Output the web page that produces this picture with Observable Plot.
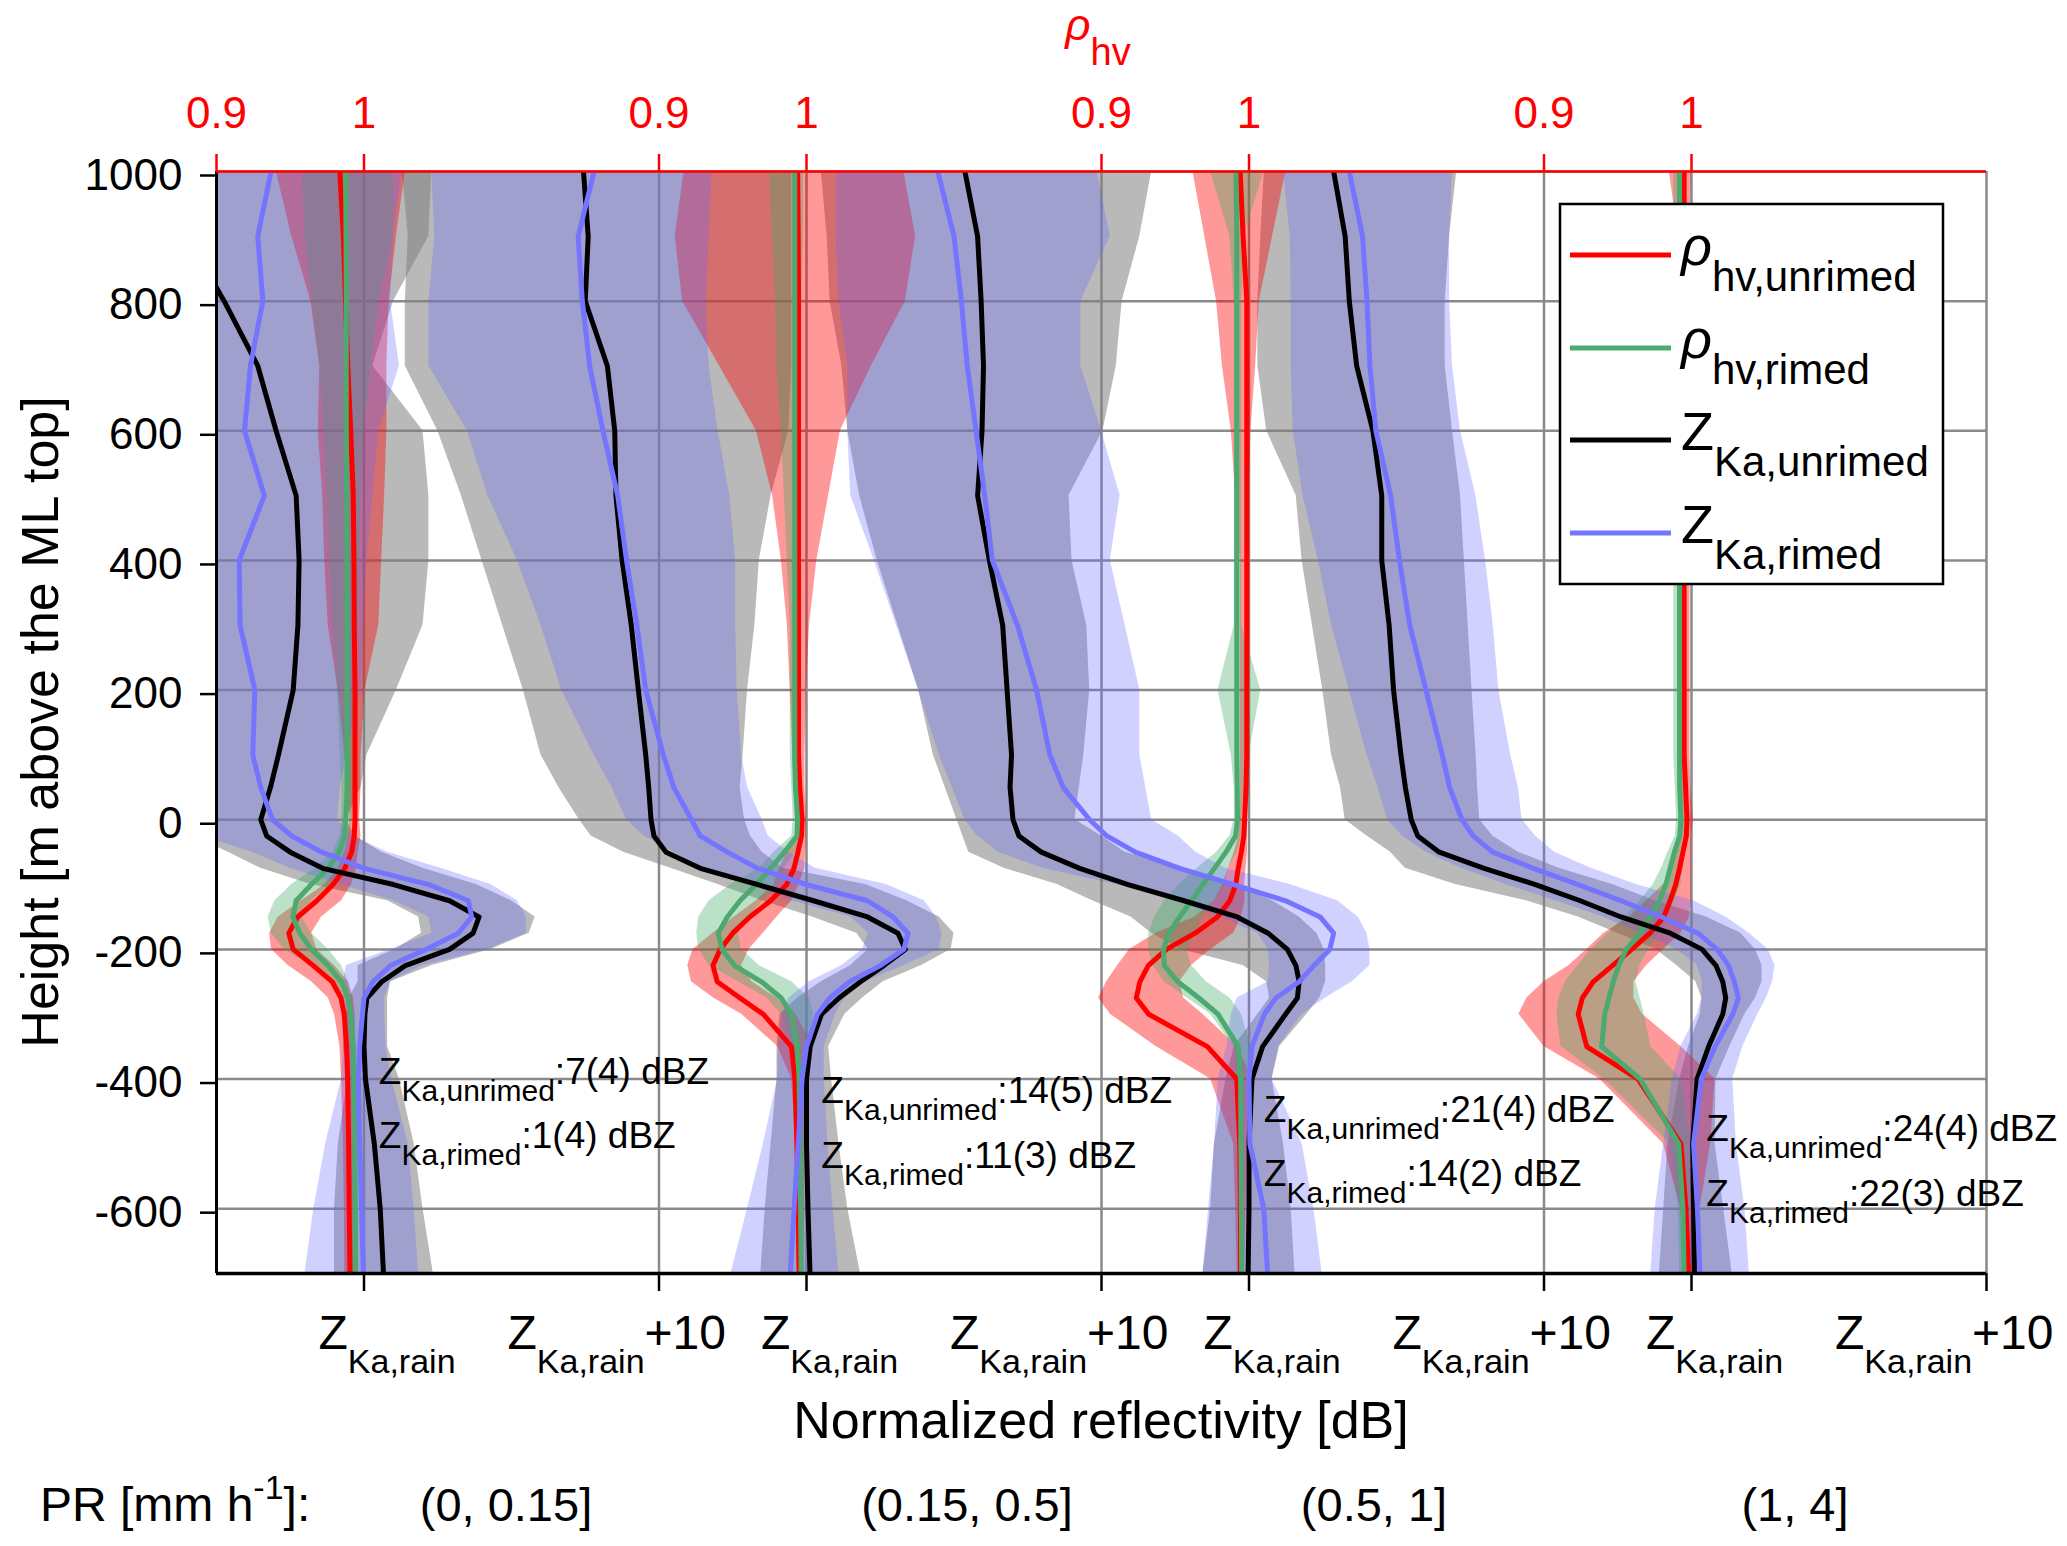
<!DOCTYPE html>
<html>
<head>
<meta charset="utf-8">
<script src="https://cdn.jsdelivr.net/npm/d3@7"></script>
<script src="https://cdn.jsdelivr.net/npm/@observablehq/plot@0.6"></script>
<style>
html, body { margin: 0; padding: 0; background: #ffffff; }
#chart svg { display: block; }
</style>
</head>
<body>
<div id="chart"></div>
<script>
// ---------------- DATA ----------------
// heights (m above the ML top)
const heights = [1000, 900, 800, 700, 600, 500, 400, 300, 200, 100, 50, 0, -25, -50, -75, -100, -125, -150, -175, -200, -225, -250, -275, -300, -350, -400, -500, -600, -700];
const panels = [0, 1, 2, 3];
const prClasses = ["(0, 0.15]", "(0.15, 0.5]", "(0.5, 1]", "(1, 4]"];
const unrimedMean = ["7(4)", "14(5)", "21(4)", "24(4)"];
const rimedMean = ["1(4)", "11(3)", "14(2)", "22(3)"];

// normalized Ka reflectivity (dB relative to Z_Ka,rain), one array per PR class
const zUnrimed = [
  [-6.8, -6.0, -4.74, -3.6, -2.98, -2.3, -2.2, -2.24, -2.4, -2.9, -3.17, -3.5, -3.3, -2.5, -1.4, 1.0, 2.9, 3.9, 3.7, 2.9, 1.4, 0.6, 0.1, 0.03, 0.0, 0.05, 0.35, 0.55, 0.66],
  [-7.56, -7.4, -7.5, -6.75, -6.5, -6.46, -6.25, -5.94, -5.7, -5.45, -5.35, -5.27, -5.17, -4.76, -3.6, -1.65, 0.24, 2.07, 3.1, 3.35, 2.62, 1.83, 1.1, 0.51, 0.12, 0.0, 0.0, 0.05, 0.12],
  [-9.63, -9.2, -9.08, -9.0, -9.05, -9.2, -8.8, -8.35, -8.2, -8.05, -8.1, -8.0, -7.8, -7.04, -5.74, -4.1, -2.2, -0.4, 0.65, 1.3, 1.59, 1.7, 1.64, 1.24, 0.46, 0.1, 0.0, 0.0, -0.03],
  [-12.13, -11.74, -11.6, -11.35, -10.8, -10.5, -10.5, -10.25, -10.1, -9.85, -9.7, -9.5, -9.28, -8.55, -7.03, -5.29, -3.77, -2.39, -0.72, 0.36, 0.83, 1.06, 1.16, 1.06, 0.58, 0.19, 0.04, 0.07, 0.1]
];
const zRimed = [
  [-3.15, -3.6, -3.43, -3.85, -4.05, -3.38, -4.23, -4.2, -3.7, -3.77, -3.5, -3.1, -2.45, -1.43, 0.0, 2.2, 3.54, 3.65, 3.2, 2.1, 0.9, 0.3, 0.0, -0.05, -0.15, -0.19, -0.15, -0.08, -0.02],
  [-7.2, -7.74, -7.6, -7.35, -6.9, -6.4, -6.1, -5.75, -5.45, -4.85, -4.5, -3.9, -3.6, -2.68, -1.65, 0.0, 2.07, 2.93, 3.44, 3.3, 2.5, 1.46, 0.79, 0.37, 0.0, -0.15, -0.28, -0.42, -0.55],
  [-10.55, -10.0, -9.75, -9.55, -9.25, -8.96, -8.7, -7.85, -7.2, -6.75, -6.3, -5.4, -4.82, -3.85, -2.35, -0.52, 1.24, 2.41, 2.87, 2.74, 2.2, 1.7, 0.91, 0.52, 0.1, 0.0, 0.03, 0.5, 0.63],
  [-11.6, -11.15, -11.0, -10.9, -10.7, -10.2, -9.9, -9.55, -9.0, -8.45, -8.2, -7.78, -7.4, -6.74, -5.36, -3.84, -2.39, -1.01, 0.22, 0.87, 1.26, 1.45, 1.59, 1.4, 0.8, 0.33, 0.07, 0.2, 0.29]
];
// copolar correlation coefficient
const rhoUnrimed = [
  [0.9836, 0.986, 0.9875, 0.989, 0.991, 0.9927, 0.9932, 0.9934, 0.9939, 0.9939, 0.9939, 0.9939, 0.9934, 0.9916, 0.987, 0.979, 0.968, 0.955, 0.949, 0.952, 0.9656, 0.9785, 0.9844, 0.9866, 0.9882, 0.9889, 0.9896, 0.99, 0.9905],
  [0.994, 0.9944, 0.9946, 0.9946, 0.9946, 0.9946, 0.9946, 0.9946, 0.9946, 0.9946, 0.9955, 0.997, 0.9966, 0.9942, 0.9915, 0.9866, 0.9756, 0.9615, 0.95, 0.9415, 0.9366, 0.9395, 0.9549, 0.9707, 0.9898, 0.9922, 0.9935, 0.9943, 0.995],
  [0.994, 0.996, 0.9985, 0.9985, 0.9985, 0.9985, 0.9985, 0.9985, 0.9985, 0.9985, 0.998, 0.997, 0.9965, 0.9948, 0.9927, 0.991, 0.987, 0.9786, 0.9635, 0.944, 0.9317, 0.926, 0.9236, 0.932, 0.9718, 0.9917, 0.9937, 0.9942, 0.9943],
  [0.995, 0.995, 0.995, 0.995, 0.995, 0.995, 0.995, 0.995, 0.995, 0.995, 0.996, 0.997, 0.9965, 0.9942, 0.9919, 0.9893, 0.9855, 0.9812, 0.9719, 0.9594, 0.9464, 0.9333, 0.926, 0.9232, 0.929, 0.9638, 0.9928, 0.9962, 0.998]
];
const rhoRimed = [
  [0.9875, 0.9878, 0.988, 0.988, 0.988, 0.9882, 0.9884, 0.9885, 0.9885, 0.9886, 0.9886, 0.9876, 0.987, 0.983, 0.9757, 0.9643, 0.954, 0.9518, 0.9565, 0.9643, 0.9757, 0.9848, 0.9893, 0.991, 0.9925, 0.9932, 0.9939, 0.9941, 0.9943],
  [0.992, 0.992, 0.992, 0.992, 0.992, 0.992, 0.992, 0.992, 0.992, 0.992, 0.9925, 0.994, 0.9935, 0.985, 0.9756, 0.9659, 0.9549, 0.9463, 0.9402, 0.9427, 0.9512, 0.9695, 0.9829, 0.9898, 0.9937, 0.995, 0.9957, 0.996, 0.9964],
  [0.9912, 0.9917, 0.9917, 0.9917, 0.9917, 0.9917, 0.9917, 0.9917, 0.9917, 0.9917, 0.992, 0.9922, 0.9909, 0.9844, 0.9765, 0.9687, 0.961, 0.953, 0.9458, 0.942, 0.9426, 0.9518, 0.966, 0.979, 0.9927, 0.9943, 0.9945, 0.9948, 0.995],
  [0.9919, 0.9919, 0.9919, 0.9919, 0.9919, 0.9919, 0.9919, 0.9919, 0.9919, 0.9919, 0.992, 0.9928, 0.992, 0.9884, 0.9855, 0.9826, 0.9783, 0.9719, 0.9652, 0.9557, 0.9507, 0.947, 0.944, 0.9412, 0.9391, 0.9652, 0.9913, 0.9942, 0.995]
];
// spread (lower / upper edge of shaded areas)
const zUnrimedLo = [
  [-13, -13, -12, -11, -10.5, -10, -10, -10, -9.5, -9, -8.5, -7, -5.8, -4.6, -3.5, -1.8, 0.8, 1.85, 1.95, 1.05, -0.2, -0.2, -0.5, -0.6, -0.7, -0.55, -0.87, -1.0, -1.0],
  [-13.7, -13.5, -13.6, -13.6, -12.5, -11.7, -11.0, -10.3, -9.6, -9.0, -8.4, -7.7, -7.3, -6.2, -4.6, -3.0, -1.5, 0.2, 1.7, 2.1, 1.5, 0.5, -0.3, -0.9, -1.0, -1.0, -1.2, -1.4, -1.55],
  [-14.5, -14.3, -14.2, -13.8, -13.6, -13.2, -12.6, -11.9, -11.2, -10.7, -10.3, -9.9, -9.7, -9.5, -8.3, -6.5, -5.3, -4.0, -3.3, -2.3, -0.2, 0.6, 0.7, 0.3, -0.5, -0.78, -1.17, -1.3, -1.56],
  [-14.48, -14.6, -14.7, -14.7, -14.4, -13.4, -13.2, -12.85, -12.5, -12.2, -11.9, -11.74, -11.0, -10.2, -9.7, -8.0, -5.6, -3.84, -2.5, -1.2, -0.5, 0.15, 0.35, 0.3, -0.1, -0.4, -0.8, -0.94, -1.09]
];
const zUnrimedHi = [
  [2.3, 2.2, 1.0, 0.3, 2.0, 2.2, 2.2, 2.0, 1.1, 0.1, -0.1, -0.6, -0.3, 0.6, 2.0, 3.8, 5.0, 5.8, 5.6, 4.3, 2.3, 0.9, 0.8, 0.8, 0.8, 1.2, 1.7, 2.0, 2.35],
  [-0.5, -0.5, -0.5, -0.5, -0.6, -1.2, -1.6, -1.75, -2.0, -2.15, -2.25, -2.1, -1.9, -1.5, -0.8, 2.0, 3.4, 4.5, 5.0, 4.9, 3.9, 2.6, 1.9, 1.3, 0.75, 0.85, 1.1, 1.4, 1.83],
  [-3.3, -3.7, -4.3, -4.5, -4.95, -6.1, -6.0, -5.5, -5.4, -5.6, -5.75, -5.9, -5.0, -4.2, -2.35, -0.5, 0.8, 1.7, 2.3, 2.55, 2.6, 2.6, 2.4, 1.96, 1.04, 0.78, 1.17, 1.43, 1.56],
  [-7.96, -8.2, -8.35, -8.35, -8.1, -7.83, -7.7, -7.57, -7.44, -7.3, -7.25, -7.18, -6.74, -5.87, -4.49, -2.68, -1.23, 0.5, 1.67, 2.17, 2.39, 2.39, 2.17, 1.81, 1.3, 0.83, 0.8, 1.09, 1.38]
];
const zRimedLo = [
  [-10, -10, -10, -10, -10, -10, -10, -10, -10, -9, -8.5, -7, -5.5, -3.8, -2.5, -0.8, 1.0, 2.2, 2.3, 0.9, -0.6, -0.7, -0.7, -0.7, -0.7, -0.76, -1.3, -1.7, -2.0],
  [-12.7, -12.6, -12.8, -12.8, -11.5, -10.8, -9.8, -9.0, -8.3, -7.2, -6.6, -6.1, -5.5, -4.5, -3.5, -2.0, -0.5, 1.5, 2.1, 1.9, 1.2, 0.1, -0.6, -0.8, -0.95, -0.98, -1.46, -2.0, -2.56],
  [-14.0, -14.0, -13.9, -13.6, -13.6, -13.5, -12.7, -11.95, -11.2, -10.5, -10.06, -9.63, -9.2, -8.5, -7.0, -4.5, -2.5, -1.0, 0.3, 0.65, 0.7, 0.65, -0.4, -0.6, -0.75, -1.04, -1.17, -1.37, -1.56],
  [-13.83, -13.6, -13.57, -13.57, -13.5, -13.17, -12.65, -12.2, -11.6, -11.0, -10.63, -10.3, -9.8, -9.0, -7.8, -6.3, -4.6, -3.0, -1.7, -0.5, 0.2, 0.37, 0.35, 0.2, -0.36, -0.65, -0.94, -1.23, -1.38]
];
const zRimedHi = [
  [1.3, 1.0, 0.9, 1.2, 0.5, 0.3, 0.1, 0.0, -0.1, -0.6, -0.8, -0.9, -0.4, 0.8, 2.6, 4.3, 5.2, 5.5, 5.5, 4.2, 2.0, 0.9, 0.7, 0.7, 0.75, 0.94, 1.5, 1.7, 1.85],
  [-3.2, -3.3, -3.4, -3.3, -3.0, -2.6, -2.4, -2.4, -2.35, -2.2, -2.0, -1.5, -1.3, -0.6, 0.3, 2.7, 4.0, 4.4, 4.6, 4.5, 3.3, 2.0, 1.3, 0.98, 0.6, 0.6, 0.73, 0.9, 1.1],
  [-5.15, -4.7, -5.7, -5.7, -5.0, -4.37, -4.7, -4.2, -3.7, -3.7, -3.5, -3.3, -2.4, -1.8, -0.8, 1.4, 3.0, 3.7, 4.0, 4.1, 4.1, 3.5, 2.6, 1.8, 1.0, 0.78, 1.8, 2.2, 2.48],
  [-8.1, -8.2, -8.2, -8.1, -7.83, -7.31, -6.98, -6.72, -6.53, -6.13, -5.87, -5.74, -5.29, -4.64, -3.4, -1.88, 0.07, 1.16, 1.96, 2.6, 2.83, 2.75, 2.54, 2.25, 1.74, 1.4, 1.52, 1.81, 1.96]
];
const rhoUnrimedLo = [
  [0.9405, 0.951, 0.964, 0.970, 0.969, 0.972, 0.9734, 0.9757, 0.9825, 0.987, 0.989, 0.9905, 0.9894, 0.987, 0.9826, 0.9735, 0.9577, 0.9419, 0.936, 0.9373, 0.9486, 0.9645, 0.9758, 0.980, 0.9837, 0.9848, 0.986, 0.9867, 0.987],
  [0.917, 0.911, 0.916, 0.941, 0.966, 0.977, 0.983, 0.987, 0.989, 0.9907, 0.9915, 0.9927, 0.9925, 0.9866, 0.9817, 0.978, 0.966, 0.951, 0.9366, 0.923, 0.9195, 0.922, 0.937, 0.956, 0.9805, 0.990, 0.9927, 0.993, 0.994],
  [0.962, 0.970, 0.978, 0.982, 0.988, 0.991, 0.994, 0.994, 0.994, 0.994, 0.994, 0.994, 0.993, 0.990, 0.986, 0.982, 0.9765, 0.9635, 0.937, 0.919, 0.911, 0.9035, 0.898, 0.906, 0.937, 0.974, 0.9896, 0.991, 0.992],
  [0.985, 0.991, 0.991, 0.991, 0.991, 0.991, 0.991, 0.991, 0.991, 0.991, 0.991, 0.9928, 0.992, 0.9899, 0.987, 0.981, 0.9696, 0.958, 0.9406, 0.929, 0.917, 0.9, 0.8884, 0.883, 0.9, 0.9377, 0.981, 0.9928, 0.9957]
];
const rhoUnrimedHi = [
  [1.028, 1.022, 1.017, 1.0155, 1.0155, 1.014, 1.012, 1.01, 1.0007, 0.998, 0.998, 0.997, 0.998, 0.996, 0.995, 0.9916, 0.9848, 0.9713, 0.9645, 0.968, 0.980, 0.9894, 0.9928, 0.9939, 0.9939, 0.9939, 0.9937, 0.9934, 0.9934],
  [1.066, 1.074, 1.067, 1.044, 1.023, 1.015, 1.007, 1.002, 1.0, 0.999, 0.999, 1.0, 1.0, 0.9995, 0.9988, 0.995, 0.990, 0.980, 0.9707, 0.961, 0.956, 0.963, 0.980, 0.9927, 1.005, 1.002, 0.9988, 0.9988, 0.998],
  [1.025, 1.016, 1.007, 1.0045, 1.0013, 1.0, 1.0, 1.0, 1.0, 1.0, 1.0, 0.999, 0.999, 0.999, 0.998, 0.997, 0.9974, 0.9948, 0.9896, 0.974, 0.961, 0.953, 0.9557, 0.9687, 0.992, 1.0026, 0.9987, 0.998, 0.997],
  [1.0, 0.999, 0.999, 0.999, 0.999, 0.999, 0.999, 0.999, 0.999, 0.999, 0.9995, 1.0014, 1.0, 1.0, 1.0, 1.0, 1.0, 0.9986, 0.9928, 0.981, 0.9696, 0.9609, 0.9609, 0.9667, 0.9928, 1.016, 1.013, 1.0058, 1.002]
];
const rhoRimedLo = [
  [0.958, 0.96, 0.965, 0.97, 0.973, 0.975, 0.977, 0.979, 0.982, 0.984, 0.985, 0.985, 0.9837, 0.979, 0.967, 0.951, 0.9396, 0.935, 0.9373, 0.946, 0.9645, 0.980, 0.987, 0.9894, 0.991, 0.9915, 0.992, 0.992, 0.992],
  [0.975, 0.977, 0.979, 0.98, 0.983, 0.985, 0.987, 0.989, 0.989, 0.989, 0.99, 0.991, 0.99, 0.978, 0.968, 0.9488, 0.934, 0.927, 0.9256, 0.927, 0.934, 0.9537, 0.973, 0.983, 0.99, 0.992, 0.994, 0.9945, 0.995],
  [0.974, 0.987, 0.990, 0.990, 0.990, 0.990, 0.990, 0.990, 0.979, 0.988, 0.990, 0.990, 0.987, 0.978, 0.965, 0.953, 0.9426, 0.936, 0.932, 0.932, 0.935, 0.9426, 0.958, 0.974, 0.9896, 0.992, 0.993, 0.994, 0.994],
  [0.988, 0.988, 0.988, 0.988, 0.988, 0.988, 0.988, 0.988, 0.988, 0.988, 0.989, 0.9899, 0.989, 0.984, 0.9797, 0.974, 0.9652, 0.955, 0.9435, 0.9319, 0.923, 0.9145, 0.91, 0.9087, 0.9116, 0.9406, 0.9855, 0.991, 0.992]
];
const rhoRimedHi = [
  [1.02, 1.02, 1.01, 1.005, 1.0, 0.998, 0.997, 0.996, 0.995, 0.994, 0.993, 0.992, 0.9894, 0.987, 0.985, 0.978, 0.9645, 0.9577, 0.9645, 0.9758, 0.9848, 0.9894, 0.9916, 0.9939, 0.995, 0.995, 0.9955, 0.996, 0.996],
  [0.998, 0.998, 0.997, 0.996, 0.996, 0.996, 0.996, 0.995, 0.995, 0.995, 0.996, 0.997, 0.997, 0.993, 0.985, 0.9805, 0.9707, 0.961, 0.9537, 0.956, 0.968, 0.99, 1.002, 1.005, 1.0, 0.999, 0.998, 0.998, 0.998],
  [1.010, 0.997, 0.995, 0.995, 0.995, 0.995, 0.995, 0.995, 1.008, 1.0, 0.997, 0.995, 0.995, 0.992, 0.986, 0.984, 0.9765, 0.9687, 0.9635, 0.958, 0.961, 0.971, 0.987, 0.995, 1.0013, 0.998, 0.997, 0.997, 0.997],
  [0.996, 0.996, 0.996, 0.996, 0.996, 0.996, 0.996, 0.996, 0.996, 0.996, 0.996, 0.9962, 0.996, 0.9957, 0.9942, 0.9928, 0.9884, 0.984, 0.9783, 0.971, 0.9652, 0.9623, 0.9652, 0.968, 0.9725, 0.9928, 1.0, 0.999, 0.998]
];

// axis tick values
const yTicks = [-600, -400, -200, 0, 200, 400, 600, 800, 1000];
const zRainTicks = [0, 15, 30, 45];          // Z_Ka,rain of each PR class
const zRainPlus10Ticks = [10, 25, 40, 55];   // Z_Ka,rain + 10 dB
const rhoTicks = [-5, 0, 10, 15, 25, 30, 40, 45]; // rho_hv = 0.9 and 1

// ---------------- LAYOUT / STYLE ----------------
const W = 2067, H = 1546;
const FONT = "'Liberation Sans', Arial, Helvetica, sans-serif";
const PANEL = 15;     // dB between consecutive PR classes
const RHO_DB = 50;    // 0.1 of rho_hv spans 5 dB
const annotH1 = [-409, -437, -467, -497];
const annotH2 = [-507, -538, -566, -597];
const prLabelPx = [506, 967, 1374, 1795];

const colors = {
  rhoU: "#ff0000", rhoR: "#4ca96f", zU: "#000000", zR: "#7474ff",
  bandRhoU: "#ff0000", bandRhoR: "#3caa64", bandZU: "#808080", bandZR: "#6666ff"
};

const zx = (p, v) => PANEL * p + v;
const rx = (p, v) => PANEL * p + (v - 1) * RHO_DB;

function lineData(arr, conv) {
  return panels.flatMap(p => arr[p].map((v, i) => ({p, h: heights[i], x: conv(p, v)})));
}
function bandData(lo, hi, conv) {
  return panels.flatMap(p => heights.map((h, i) => ({p, h, lo: conv(p, lo[p][i]), hi: conv(p, hi[p][i])})));
}

const band = (data, fill, op) => Plot.areaX(data, {y: "h", x1: "lo", x2: "hi", z: "p", fill, fillOpacity: op, clip: true, curve: "linear"});
const line = (data, stroke) => Plot.line(data, {x: "x", y: "h", z: "p", stroke, strokeWidth: 5, strokeLinejoin: "round", clip: true});

const plot = Plot.plot({
  width: W, height: H,
  marginLeft: 216, marginRight: 81, marginTop: 171, marginBottom: 273,
  x: {domain: [-5, 55]},
  y: {domain: [-700, 1000]},
  style: {fontFamily: FONT, background: "#ffffff", color: "#000000", overflow: "visible"},
  marks: [
    // grid (under the data, like the reference)
    Plot.ruleX([...zRainTicks, ...zRainPlus10Ticks], {x: d => d, stroke: "#8a8a8a", strokeWidth: 2.5}),
    Plot.ruleY(yTicks, {y: d => d, stroke: "#8a8a8a", strokeWidth: 2.5}),
    // spreads
    band(bandData(zUnrimedLo, zUnrimedHi, zx), colors.bandZU, 0.55),
    band(bandData(rhoUnrimedLo, rhoUnrimedHi, rx), colors.bandRhoU, 0.4),
    band(bandData(rhoRimedLo, rhoRimedHi, rx), colors.bandRhoR, 0.35),
    band(bandData(zRimedLo, zRimedHi, zx), colors.bandZR, 0.3),
    // mean profiles
    line(lineData(rhoUnrimed, rx), colors.rhoU),
    line(lineData(rhoRimed, rx), colors.rhoR),
    line(lineData(zUnrimed, zx), colors.zU),
    line(lineData(zRimed, zx), colors.zR),
    // frame
    Plot.ruleX([-5], {x: d => d, stroke: "#000", strokeWidth: 3}),
    Plot.ruleY([-700], {y: d => d, stroke: "#000", strokeWidth: 3.5}),
    Plot.ruleY([1000], {y: d => d, stroke: "#ff0000", strokeWidth: 2.5}),
    // axes
    Plot.axisY({ticks: yTicks, tickSize: 16, tickPadding: 18, fontSize: 44, tickFormat: d => String(d), label: null, strokeWidth: 2.5, dy: 4}),
    Plot.axisX({anchor: "bottom", ticks: [...zRainTicks, ...zRainPlus10Ticks], tickSize: 18, tickFormat: () => "", label: null, strokeWidth: 2.5}),
    Plot.axisX({anchor: "top", ticks: rhoTicks, tickSize: 18, tickPadding: 26, fontSize: 44, color: "#ff0000", label: null, strokeWidth: 2.5,
      tickFormat: d => (((d % PANEL) + PANEL) % PANEL === 0 ? "1" : "0.9")})
  ]
});

document.getElementById("chart").appendChild(plot);

// ---------------- RICH TEXT (sub/superscripts) ----------------
const svg = d3.select(plot);
const sx = plot.scale("x"), sy = plot.scale("y");

function parse(s) {
  const parts = [];
  const re = /([_^])\{([^}]*)\}|([^_^]+)/g;
  let m;
  while ((m = re.exec(s))) {
    if (m[1] === "_") parts.push({t: m[2], sub: true});
    else if (m[1] === "^") parts.push({t: m[2], sup: true});
    else m[3].split(/(ρ)/).filter(x => x).forEach(x => parts.push({t: x, italic: x === "ρ"}));
  }
  return parts;
}
function richText(parent, s, o) {
  const t = parent.append("text")
    .attr("x", o.x).attr("y", o.y)
    .attr("text-anchor", o.anchor || "start")
    .attr("fill", o.fill || "#000")
    .attr("font-family", FONT)
    .attr("font-size", o.fs);
  if (o.rotate) t.attr("transform", `rotate(${o.rotate},${o.x},${o.y})`);
  let cur = 0;
  for (const part of parse(s)) {
    const target = part.sub ? o.sub : part.sup ? -o.sup : 0;
    const ts = t.append("tspan").text(part.t);
    if (target !== cur) ts.attr("dy", target - cur);
    cur = target;
    if (part.sub || part.sup) ts.attr("font-size", o.subFs);
    if (part.italic) ts.attr("font-style", "italic").attr("font-size", o.rhoFs || o.fs);
  }
  return t;
}

const g = svg.append("g").attr("class", "annotations");
const yBottom = sy.apply(-700);
const yTop = sy.apply(1000);
const xMid = (sx.apply(-5) + sx.apply(55)) / 2;

// bottom tick labels
zRainTicks.forEach(v => richText(g, "Z_{Ka,rain}", {x: sx.apply(v) - 45, y: yBottom + 76, fs: 48, subFs: 34, sub: 24}));
zRainPlus10Ticks.forEach(v => richText(g, "Z_{Ka,rain}+10", {x: sx.apply(v) - 151, y: yBottom + 76, fs: 48, subFs: 34, sub: 24}));

// axis titles
richText(g, "Normalized reflectivity [dB]", {x: xMid, y: yBottom + 165, fs: 52, anchor: "middle"});
richText(g, "Height [m above the ML top]", {x: 58, y: (yTop + yBottom) / 2, fs: 52, anchor: "middle", rotate: -90});
richText(g, "ρ_{hv}", {x: xMid - 3, y: 40, fs: 44, subFs: 38, sub: 25, anchor: "middle", fill: "#ff0000"});

// PR classes row
richText(g, "PR [mm h^{-1}]:", {x: 40, y: 1521, fs: 48, subFs: 34, sup: 22});
prClasses.forEach((c, i) => richText(g, c, {x: prLabelPx[i], y: 1521, fs: 47, anchor: "middle"}));

// mean reflectivity annotations
panels.forEach(p => {
  richText(g, `Z_{Ka,unrimed}:${unrimedMean[p]} dBZ`, {x: sx.apply(zx(p, 0.52)), y: sy.apply(annotH1[p]), fs: 37, subFs: 30, sub: 17});
  richText(g, `Z_{Ka,rimed}:${rimedMean[p]} dBZ`, {x: sx.apply(zx(p, 0.52)), y: sy.apply(annotH2[p]), fs: 37, subFs: 30, sub: 17});
});

// legend
const legend = [
  {label: "ρ_{hv,unrimed}", color: colors.rhoU},
  {label: "ρ_{hv,rimed}", color: colors.rhoR},
  {label: "Z_{Ka,unrimed}", color: colors.zU},
  {label: "Z_{Ka,rimed}", color: colors.zR}
];
const lg = svg.append("g").attr("class", "legend");
lg.append("rect").attr("x", 1560).attr("y", 204).attr("width", 383).attr("height", 380)
  .attr("fill", "#fff").attr("stroke", "#000").attr("stroke-width", 2.5);
const legendY = [255, 348, 440, 533];
legend.forEach((d, i) => {
  lg.append("line").attr("x1", 1570).attr("x2", 1671).attr("y1", legendY[i]).attr("y2", legendY[i])
    .attr("stroke", d.color).attr("stroke-width", 5);
  richText(lg, d.label, {x: 1681, y: legendY[i] + 10, fs: 54, subFs: 42, sub: 26});
});
</script>
</body>
</html>
